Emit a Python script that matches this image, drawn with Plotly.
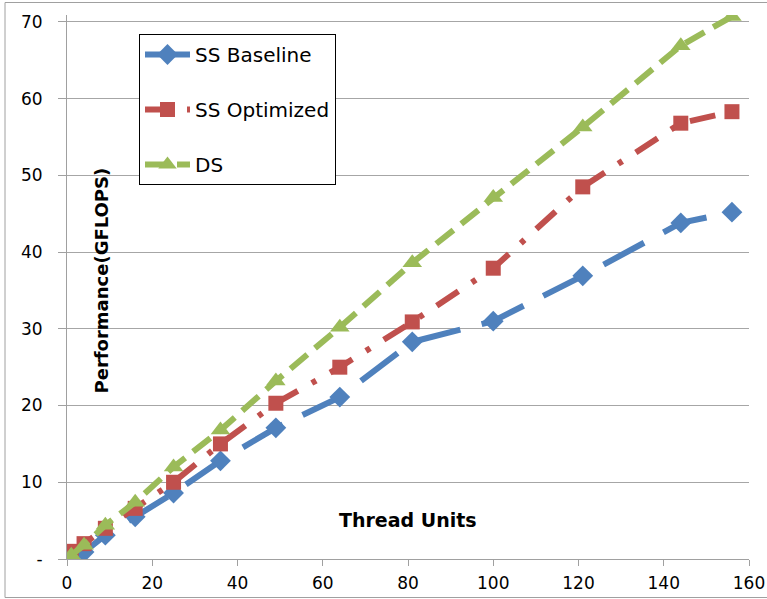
import plotly.graph_objects as go

threads = [1, 4, 9, 16, 25, 36, 49, 64, 81, 100, 121, 144, 156]
ss_baseline = [0.3, 0.9, 3.1, 5.5, 8.6, 12.8, 17.1, 21.1, 28.3, 31.0, 36.9, 43.8, 45.2]
ss_optimized = [1.0, 2.0, 4.0, 6.6, 10.0, 15.0, 20.3, 25.0, 30.9, 37.9, 48.5, 56.8, 58.3]
ds = [0.5, 1.8, 4.4, 7.4, 12.0, 16.8, 23.2, 30.2, 38.6, 47.1, 56.3, 66.9, 70.7]

x_ticks = [0, 20, 40, 60, 80, 100, 120, 140, 160]
y_ticks = [0, 10, 20, 30, 40, 50, 60, 70]
y_ticktext = ["-", "10", "20", "30", "40", "50", "60", "70"]

BLUE = "#4F81BD"
RED = "#C0504D"
GREEN = "#9BBB59"
FONT = "'DejaVu Sans', sans-serif"

fig = go.Figure()
fig.add_trace(go.Scatter(
    x=threads, y=ss_baseline, name="SS Baseline", mode="lines+markers",
    legendgroup="a",
    line=dict(color=BLUE, width=6, dash="46px,22px"),
    marker=dict(symbol="diamond", size=16, color=BLUE)))
fig.add_trace(go.Scatter(
    x=threads, y=ss_optimized, name="SS Optimized", mode="lines+markers",
    legendgroup="b",
    line=dict(color=RED, width=6, dash="26px,16px,5px,16px"),
    marker=dict(symbol="square", size=15, color=RED)))
fig.add_trace(go.Scatter(
    x=threads, y=ds, name="DS", mode="lines+markers",
    legendgroup="c",
    line=dict(color=GREEN, width=6, dash="22px,10px"),
    marker=dict(symbol="triangle-up", size=17, color=GREEN)))

fig.update_layout(
    width=767, height=599,
    margin=dict(l=67, r=18, t=15, b=40),
    paper_bgcolor="white", plot_bgcolor="white",
    font=dict(family=FONT, size=17, color="black"),
    showlegend=True,
    legend=dict(
        x=(139 - 67) / 682, y=(559 - 34) / 544, xanchor="left", yanchor="top",
        bgcolor="white", bordercolor="black", borderwidth=1,
        font=dict(family=FONT, size=20, color="black"),
        traceorder="grouped", tracegroupgap=26,
        itemwidth=45,
    ),
    xaxis=dict(
        range=[0, 160], tickvals=x_ticks, showgrid=False, zeroline=False,
        showline=True, linecolor="#A0A0A0", linewidth=1,
        ticks="outside", ticklen=6, tickcolor="#A0A0A0",
        tickfont=dict(family=FONT, size=17), ticklabelstandoff=3,
        automargin=False,
    ),
    yaxis=dict(
        range=[0, 70.9], tickvals=y_ticks, ticktext=y_ticktext,
        showgrid=True, gridcolor="#A6A6A6", gridwidth=1, zeroline=False,
        showline=True, linecolor="#A0A0A0", linewidth=1,
        ticks="outside", ticklen=8, tickcolor="#A0A0A0",
        tickfont=dict(family=FONT, size=17), ticklabelstandoff=12,
        automargin=False,
    ),
    annotations=[
        dict(text="<b>Thread Units</b>", xref="paper", yref="paper",
             x=(408 - 67) / 682, y=(559 - 533) / 544, showarrow=False,
             font=dict(family=FONT, size=19)),
        dict(text="<b>Performance(GFLOPS)</b>", xref="paper", yref="paper",
             x=(88 - 67) / 682, y=(559 - 281) / 544, showarrow=False,
             textangle=-90, font=dict(family=FONT, size=18)),
    ],
    shapes=[
        dict(type="rect", xref="paper", yref="paper",
             x0=(5 - 67) / 682, x1=(790 - 67) / 682,
             y0=(559 - 597.5) / 544, y1=(559 - 2.5) / 544,
             line=dict(color="#A0A0A0", width=1), layer="below"),
    ],
)

fig.write_html("out.html")
